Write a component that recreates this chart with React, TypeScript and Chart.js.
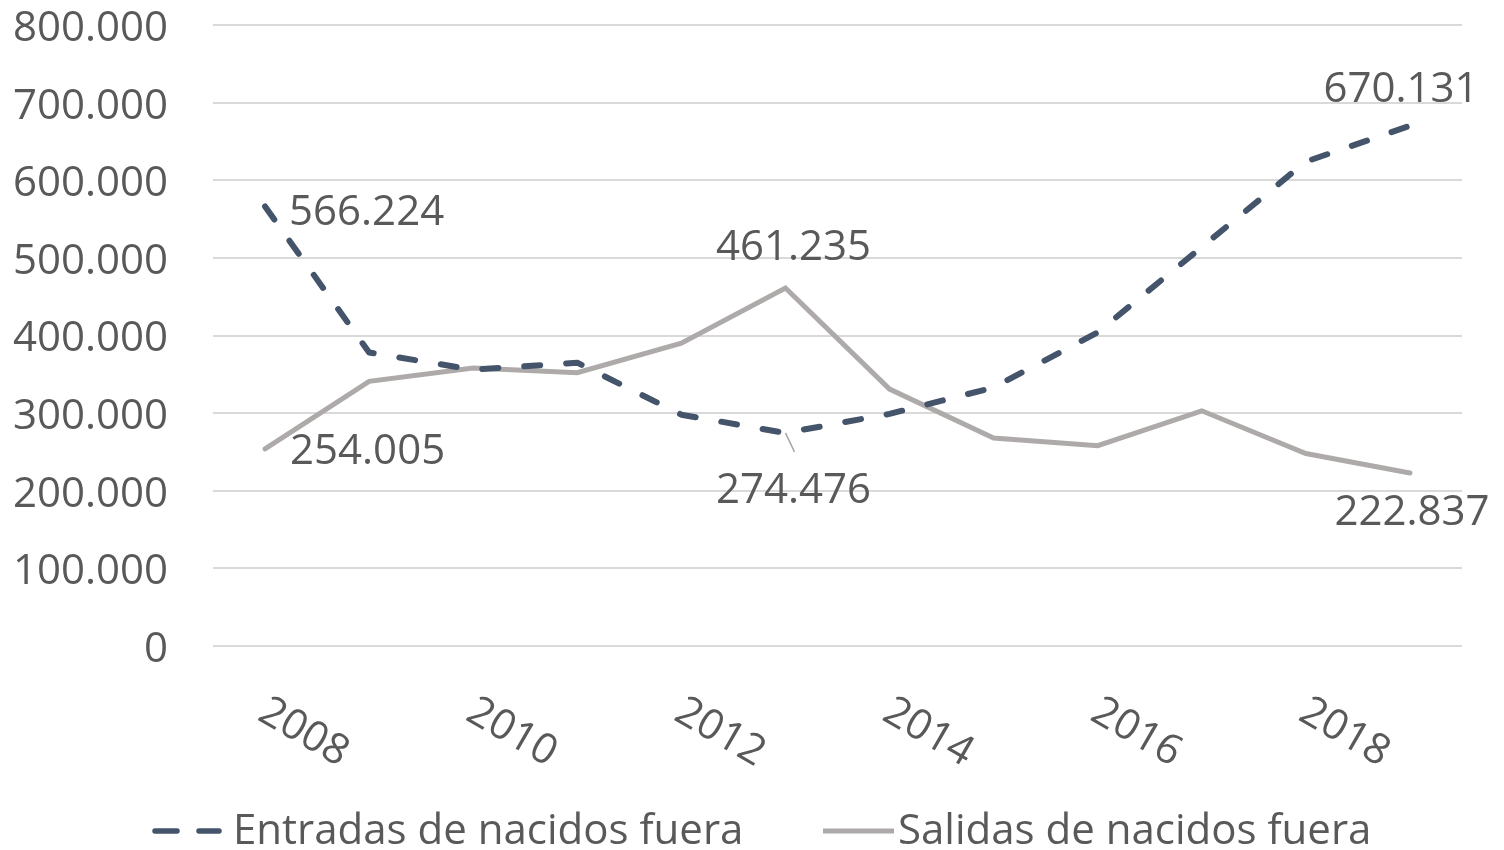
import React, { useEffect, useRef } from 'react';
import { Chart, registerables } from 'chart.js';

Chart.register(...registerables);

// ---------- data ----------
const years = ['2008', '2009', '2010', '2011', '2012', '2013', '2014', '2015', '2016', '2017', '2018', '2019'];
const shownYearLabels = ['2008', '2010', '2012', '2014', '2016', '2018'];
const entradas = [566224, 378000, 356000, 365000, 298000, 274476, 299000, 333000, 404000, 514000, 624000, 670131];
const salidas = [254005, 341000, 358000, 352000, 390000, 461235, 331000, 268000, 258000, 303000, 248000, 222837];
const seriesNames = ['Entradas de nacidos fuera', 'Salidas de nacidos fuera'];
const yMin = 0;
const yMax = 800000;
const yStep = 100000;

// ---------- style ----------
const FONT = "'Open Sans', sans-serif";
const FS = 42;
const TEXT = '#595959';
const NAVY = '#44546A';
const GRAY = '#AEAAAA';

const fmt = (v: number) => Math.round(v).toString().replace(/\B(?=(\d{3})+(?!\d))/g, '.');

// which points get a data label, and where it sits relative to the point
const labelSpecs = [
  { ds: 0, i: 0, dx: 24, dy: 4, align: 'left', leader: false },
  { ds: 1, i: 0, dx: 25, dy: 0, align: 'left', leader: false },
  { ds: 1, i: 5, dx: 8, dy: -43, align: 'center', leader: false },
  { ds: 0, i: 5, dx: 8, dy: 55, align: 'center', leader: true },
  { ds: 0, i: 11, dx: -9, dy: -39, align: 'center', leader: false },
  { ds: 1, i: 11, dx: 2, dy: 37, align: 'center', leader: false },
];

const overlayPlugin = {
  id: 'overlay',
  afterDatasetsDraw(chart: any) {
    const ctx = chart.ctx as CanvasRenderingContext2D;
    const capHalf = FS * 0.357;
    ctx.save();
    ctx.font = `${FS}px ${FONT}`;
    ctx.fillStyle = TEXT;
    ctx.textBaseline = 'alphabetic';

    // y-axis tick labels
    const ys = chart.scales.y;
    ctx.textAlign = 'right';
    ys.ticks.forEach((t: any) => {
      const py = ys.getPixelForValue(t.value);
      ctx.fillText(fmt(t.value), chart.chartArea.left - 45, py + 1 + capHalf);
    });

    // data labels
    labelSpecs.forEach((s) => {
      const pt = chart.getDatasetMeta(s.ds).data[s.i];
      const value = chart.data.datasets[s.ds].data[s.i] as number;
      const cx = pt.x + s.dx;
      const cy = pt.y + s.dy;
      if (s.leader) {
        ctx.save();
        ctx.strokeStyle = '#A6A6A6';
        ctx.lineWidth = 1.5;
        ctx.beginPath();
        ctx.moveTo(pt.x, pt.y);
        ctx.lineTo(pt.x + 9, pt.y + 19);
        ctx.stroke();
        ctx.restore();
      }
      ctx.textAlign = s.align as CanvasTextAlign;
      ctx.fillText(fmt(value), cx, cy + capHalf);
    });

    // rotated x-axis labels
    const xs = chart.scales.x;
    years.forEach((y, i) => {
      if (!shownYearLabels.includes(y)) return;
      const x = xs.getPixelForValue(i);
      ctx.save();
      ctx.translate(x + 40, 730);
      ctx.rotate((30 * Math.PI) / 180);
      ctx.textAlign = 'center';
      ctx.fillText(y, 0, capHalf);
      ctx.restore();
    });

    // legend
    const ly = 831;
    ctx.save();
    ctx.lineCap = 'round';
    ctx.lineWidth = 5.5;
    ctx.strokeStyle = NAVY;
    ctx.setLineDash([22, 22]);
    ctx.beginPath();
    ctx.moveTo(155, ly);
    ctx.lineTo(219, ly);
    ctx.stroke();
    ctx.setLineDash([]);
    ctx.lineCap = 'butt';
    ctx.lineWidth = 5;
    ctx.strokeStyle = GRAY;
    ctx.beginPath();
    ctx.moveTo(823, ly);
    ctx.lineTo(894, ly);
    ctx.stroke();
    ctx.restore();
    ctx.textAlign = 'left';
    ctx.fillText(chart.data.datasets[0].label, 233, 844);
    ctx.fillText(chart.data.datasets[1].label, 898, 844);

    ctx.restore();
  },
};

export default function App() {
  const ref = useRef<HTMLCanvasElement | null>(null);

  useEffect(() => {
    document.body.style.margin = '0';
    if (!ref.current) return;
    const chart = new Chart(ref.current, {
      type: 'line',
      data: {
        labels: years,
        datasets: [
          {
            label: seriesNames[0],
            data: entradas,
            borderColor: NAVY,
            backgroundColor: NAVY,
            borderWidth: 6,
            borderDash: [16, 26],
            borderCapStyle: 'round',
            borderJoinStyle: 'round',
            pointRadius: 0,
            tension: 0,
          },
          {
            label: seriesNames[1],
            data: salidas,
            borderColor: GRAY,
            backgroundColor: GRAY,
            borderWidth: 5,
            borderCapStyle: 'round',
            borderJoinStyle: 'miter',
            pointRadius: 0,
            tension: 0,
          },
        ],
      },
      options: {
        responsive: false,
        animation: false,
        devicePixelRatio: 1,
        layout: { padding: { left: 0, right: 42, top: 25, bottom: 204 } },
        plugins: {
          legend: { display: false },
          tooltip: { enabled: false },
          title: { display: false },
        },
        scales: {
          x: {
            type: 'category',
            offset: true,
            grid: { display: false },
            border: { display: false },
            ticks: { display: false },
            afterFit: (s: any) => {
              s.height = 0;
              s.paddingLeft = 0;
              s.paddingRight = 0;
            },
          },
          y: {
            min: yMin,
            max: yMax,
            grid: { color: '#D9D9D9', lineWidth: 2, drawTicks: false },
            border: { display: false },
            ticks: {
              display: false,
              stepSize: yStep,
            },
            afterFit: (s: any) => {
              s.width = 213;
              s.paddingTop = 0;
              s.paddingBottom = 0;
            },
          },
        },
      },
      plugins: [overlayPlugin],
    });
    return () => chart.destroy();
  }, []);

  return (
    <div style={{ width: 1504, height: 850 }}>
      <canvas ref={ref} width={1504} height={850} style={{ display: 'block' }} />
    </div>
  );
}
